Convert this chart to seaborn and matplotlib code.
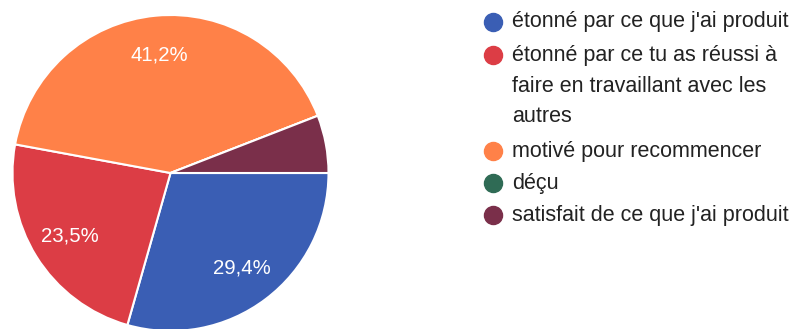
import matplotlib
matplotlib.use("Agg")
import matplotlib.pyplot as plt
from matplotlib.lines import Line2D
import seaborn as sns

# Data
categories = [
    "étonné par ce que j'ai produit",
    "étonné par ce tu as réussi à\nfaire en travaillant avec les\nautres",
    "motivé pour recommencer",
    "déçu",
    "satisfait de ce que j'ai produit",
]
values = [29.4, 23.5, 41.2, 0.0, 5.9]
colors = ["#3a5eb4", "#dc3d45", "#ff8148", "#2f6b55", "#7a2f4a"]

sns.set_theme(style="white")
plt.rcParams["font.family"] = ["Liberation Sans", "DejaVu Sans"]
palette = sns.color_palette(colors)

W, H = 795, 329
fig = plt.figure(figsize=(W / 100, H / 100), dpi=100)
fig.patch.set_facecolor("white")

cx, cy, r = 170.5, 173, 158
ax = fig.add_axes([(cx - r) / W, (H - cy - r) / H, 2 * r / W, 2 * r / H])


def fmt(p):
    # small slices get no label, as in the reference
    return "" if p < 8 else f"{p:.1f}%".replace(".", ",")


wedges, texts, autotexts = ax.pie(
    values, colors=palette, startangle=0, counterclock=False,
    autopct=fmt, pctdistance=0.75,
    wedgeprops=dict(edgecolor="white", linewidth=1.5),
    textprops=dict(color="white", fontsize=14.7),
)
ax.set_xlim(-1, 1)
ax.set_ylim(-1, 1)
ax.set_aspect("equal")
ax.axis("off")

# Legend (manual)
line_y = [22, 55, 151, 183, 215]
fs = 15.5
for cat, col, y in zip(categories, palette, line_y):
    fig.add_artist(Line2D([493 / W], [1 - y / H], marker="o", markersize=13,
                          color=col, linestyle="none", transform=fig.transFigure))
    lines = cat.split("\n")
    for i, ln in enumerate(lines):
        fig.text(512 / W, 1 - (y + i * 31) / H, ln, fontsize=fs, color="#222222",
                 va="center", ha="left")

fig.savefig("out.png", dpi=100, facecolor="white")
